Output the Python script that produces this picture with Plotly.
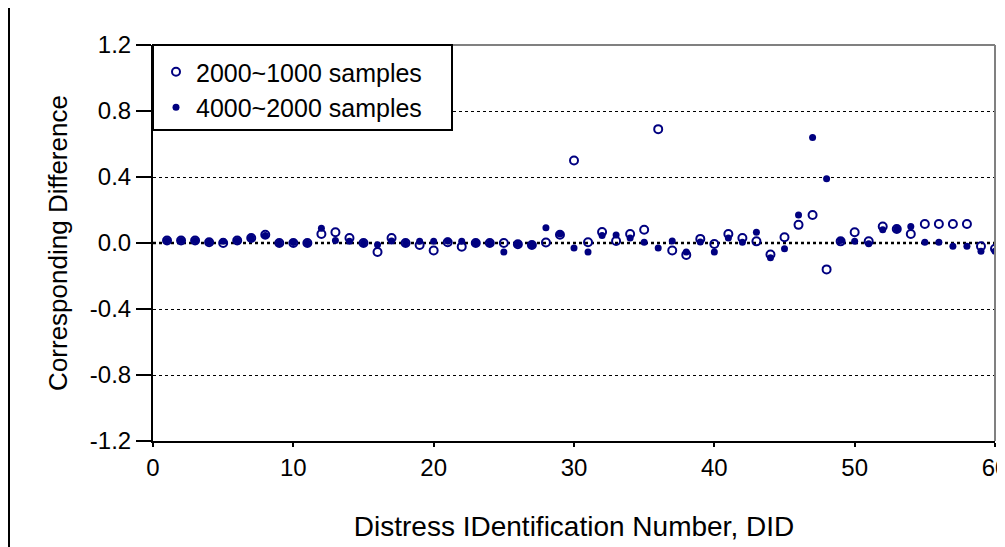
import plotly.graph_objects as go

did = list(range(1, 61))
diff_2000_1000 = [0.015, 0.015, 0.015, 0.005, 0.0, 0.015, 0.03, 0.05, 0.0, 0.0,
                  0.0, 0.055, 0.065, 0.03, 0.0, -0.055, 0.03, 0.0, -0.012, -0.045,
                  0.005, -0.022, 0.0, 0.0, 0.0, -0.008, -0.012, 0.003, 0.05, 0.5,
                  0.005, 0.067, 0.012, 0.055, 0.08, 0.69, -0.045, -0.072, 0.025, -0.006,
                  0.055, 0.03, 0.01, -0.07, 0.035, 0.11, 0.17, -0.16, 0.01, 0.065,
                  0.01, 0.1, 0.085, 0.055, 0.115, 0.115, 0.115, 0.115, -0.02, -0.035]
diff_4000_2000 = [0.015, 0.015, 0.015, 0.005, 0.01, 0.015, 0.03, 0.045, 0.0, 0.003,
                  0.0, 0.09, 0.015, 0.01, 0.0, -0.01, 0.012, 0.0, 0.01, 0.01,
                  0.012, 0.01, 0.0, 0.0, -0.055, -0.008, -0.012, 0.093, 0.055, -0.03,
                  -0.055, 0.045, 0.048, 0.03, 0.005, -0.03, 0.012, -0.055, 0.006, -0.055,
                  0.03, 0.005, 0.065, -0.09, -0.035, 0.17, 0.64, 0.39, 0.015, 0.01,
                  -0.005, 0.08, 0.085, 0.1, 0.005, 0.005, -0.02, -0.02, -0.05, -0.05]
series_names = ["2000~1000 samples", "4000~2000 samples"]
x_ticks = [0, 10, 20, 30, 40, 50, 60]
y_ticks = [-1.2, -0.8, -0.4, 0.0, 0.4, 0.8, 1.2]

NAVY = "#000080"
FONT = "Liberation Sans, Arial, sans-serif"

fig = go.Figure()
fig.add_trace(go.Scatter(
    x=did, y=diff_2000_1000, mode="markers", name=series_names[0],
    marker=dict(symbol="circle-open", size=8, color=NAVY, line=dict(width=2, color=NAVY)),
))
fig.add_trace(go.Scatter(
    x=did, y=diff_4000_2000, mode="markers", name=series_names[1],
    marker=dict(symbol="circle", size=7, color=NAVY, line=dict(width=0)),
))

# page body has an 8px margin, so the figure is 8px smaller than the window
W, H = 997, 539
L, R, T, B = 145, 10, 37, 106
pw, ph = W - L - R, H - T - B

shapes = [
    # thick dotted zero line
    dict(type="line", xref="paper", yref="y", x0=0, x1=1, y0=0, y1=0,
         line=dict(color="black", width=2.5, dash="dot"), layer="below"),
    # gray top and right plot borders
    dict(type="line", xref="paper", yref="paper", x0=0, x1=1, y0=1, y1=1,
         line=dict(color="#808080", width=2)),
    dict(type="line", xref="paper", yref="paper", x0=1, x1=1, y0=0, y1=1,
         line=dict(color="#808080", width=2)),
    # outer chart frame (left edge)
    dict(type="line", xref="paper", yref="paper",
         x0=(1 - L) / pw, x1=(1 - L) / pw, y0=-0.4, y1=1.3,
         line=dict(color="black", width=2)),
    # legend box
    dict(type="rect", xref="paper", yref="paper",
         x0=0, x1=(452 - 153) / pw, y0=(441 - 130) / ph, y1=1,
         fillcolor="white", line=dict(color="black", width=2), layer="above"),
]

fig.update_layout(
    width=W, height=H,
    margin=dict(l=L, r=R, t=T, b=B, autoexpand=False),
    paper_bgcolor="white", plot_bgcolor="white",
    font=dict(family=FONT, size=24, color="black"),
    showlegend=True,
    legend=dict(x=3 / pw, y=1 - 4 / ph, xanchor="left", yanchor="top",
                bgcolor="rgba(0,0,0,0)", borderwidth=0,
                font=dict(family=FONT, size=25, color="black"),
                itemsizing="trace"),
    shapes=shapes,
    xaxis=dict(range=[0, 60], tickvals=x_ticks, ticktext=[str(v) for v in x_ticks],
               showgrid=False, zeroline=False,
               showline=True, linecolor="black", linewidth=2,
               ticks="outside", ticklen=4, tickwidth=2, tickcolor="black",
               tickfont=dict(family=FONT, size=24),
               ticklabeloverflow="allow",
               title=dict(text="Distress IDentification Number, DID",
                          font=dict(family=FONT, size=28), standoff=37),
               automargin=False),
    yaxis=dict(range=[-1.2, 1.2], tickvals=y_ticks, ticktext=[f"{v:.1f}" for v in y_ticks],
               showgrid=True, gridcolor="black", gridwidth=1, griddash="dot",
               zeroline=False,
               showline=True, linecolor="black", linewidth=2,
               ticks="outside", ticklen=15, tickwidth=2, tickcolor="black",
               tickfont=dict(family=FONT, size=24),
               title=dict(text="Corresponding Difference",
                          font=dict(family=FONT, size=26), standoff=15),
               automargin=False),
)

fig.write_html("out.html")
